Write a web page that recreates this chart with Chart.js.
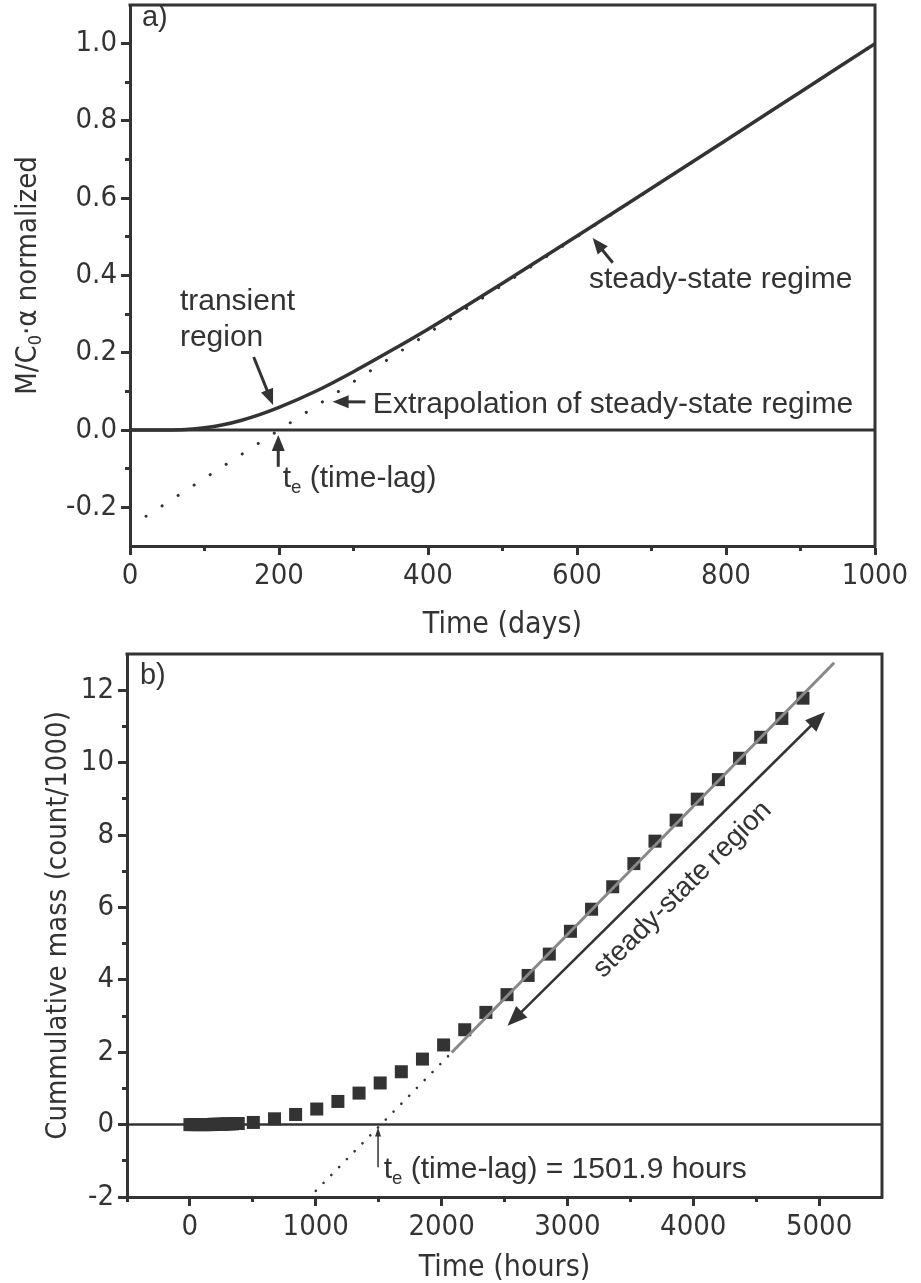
<!DOCTYPE html>
<html>
<head>
<meta charset="utf-8">
<script src="https://cdn.jsdelivr.net/npm/chart.js@4.4.0/dist/chart.umd.min.js"></script>
<style>
  html, body { margin: 0; padding: 0; background: #fff; }
  .panel { position: absolute; left: 0; width: 921px; }
  #panelA { top: 0; height: 640px; }
  #panelB { top: 640px; height: 643px; }
  canvas { display: block; }
</style>
</head>
<body>
<div class="panel" id="panelA"><canvas id="chartA" width="921" height="640"></canvas></div>
<div class="panel" id="panelB"><canvas id="chartB" width="921" height="643"></canvas></div>
<script>
// ---- panel a: normalized mass vs time (days)
const timeDays = [0, 50, 75, 100, 125, 150, 175, 200, 250, 300, 350, 400, 450, 500, 600, 700, 800, 900, 1000];
const massNorm = [0, 0.0002, 0.0015, 0.0058, 0.0137, 0.0255, 0.0406, 0.0586, 0.101, 0.151, 0.205, 0.261, 0.320, 0.380, 0.502, 0.626, 0.750, 0.875, 1.0];
const extrapDays = [0, 1000];
const extrapNorm = [-0.25, 1.0];
const zeroDays = [0, 1000];
const xTicksA = [0, 200, 400, 600, 800, 1000];
const xLabelsA = ['0', '200', '400', '600', '800', '1000'];
const xMinorA = [100, 300, 500, 700, 900];
const yTicksA = [-0.2, 0, 0.2, 0.4, 0.6, 0.8, 1.0];
const yLabelsA = ['-0.2', '0.0', '0.2', '0.4', '0.6', '0.8', '1.0'];
const yMinorA = [-0.1, 0.1, 0.3, 0.5, 0.7, 0.9];

// ---- panel b: cumulative mass vs time (hours)
const timeHours = [0, 24, 48, 72, 96, 120, 144, 168, 192, 216, 240, 264, 288, 312, 336, 360, 384,
  504, 672, 840, 1008, 1176, 1344, 1512, 1680, 1848, 2016, 2184, 2352, 2520, 2688, 2856,
  3024, 3192, 3360, 3528, 3696, 3864, 4032, 4200, 4368, 4536, 4704, 4872];
const massCount = [0, 0, 0, 0, 0, 0, 0, 0, 0.01, 0.01, 0.01, 0.01, 0.02, 0.02, 0.02, 0.03, 0.03,
  0.06, 0.16, 0.28, 0.43, 0.64, 0.87, 1.15, 1.46, 1.81, 2.20, 2.62, 3.10, 3.59, 4.12, 4.71,
  5.34, 5.95, 6.57, 7.21, 7.83, 8.41, 8.99, 9.53, 10.12, 10.70, 11.22, 11.78];
const fitHours = [2080, 5120];
const fitCount = [1.99, 12.76];
const lagHours = [1000, 2080];
const lagCount = [-1.83, 1.99];
const zeroHours = [-500, 5500];
const xTicksB = [0, 1000, 2000, 3000, 4000, 5000];
const xLabelsB = ['0', '1000', '2000', '3000', '4000', '5000'];
const xMinorB = [-500, 500, 1500, 2500, 3500, 4500];
const yTicksB = [-2, 0, 2, 4, 6, 8, 10, 12];
const yLabelsB = ['-2', '0', '2', '4', '6', '8', '10', '12'];
const yMinorB = [-1, 1, 3, 5, 7, 9, 11];

const ink = '#333';
const narrow = "'Liberation Sans Narrow', 'DejaVu Sans Condensed', 'Liberation Sans', sans-serif";
const plain = "'Liberation Sans', Arial, sans-serif";

function pts(xs, ys) {
  return xs.map((x, i) => ({ x: x, y: ys[i] }));
}

function noPad(s) {
  s.paddingTop = 0; s.paddingBottom = 0; s.paddingLeft = 0; s.paddingRight = 0;
}

function majorAxis(pos, min, max, ticks, labels, size, title, titleSize, titlePad) {
  return {
    type: 'linear', position: pos, min: min, max: max, weight: 1,
    afterBuildTicks: s => { s.ticks = ticks.map(v => ({ value: v })); },
    afterFit: s => {
      if (pos === 'left') s.width = size; else s.height = size;
      noPad(s);
    },
    grid: { drawOnChartArea: false, drawTicks: true, tickLength: 9, tickWidth: 3, tickColor: ink },
    border: { display: true, color: ink, width: 3 },
    ticks: {
      color: ink, font: { family: narrow, size: 29 }, padding: 4,
      maxRotation: 0, autoSkip: false,
      callback: (v, i) => labels[i]
    },
    title: {
      display: !!title, text: title || '', color: ink,
      font: { family: narrow, size: titleSize || 30, lineHeight: 1 }, padding: titlePad || 0
    }
  };
}

function minorAxis(pos, min, max, ticks) {
  return {
    type: 'linear', position: pos, min: min, max: max, weight: 0,
    afterBuildTicks: s => { s.ticks = ticks.map(v => ({ value: v })); },
    afterFit: s => {
      if (pos === 'left') s.width = 0; else s.height = 0;
      noPad(s);
    },
    grid: { drawOnChartArea: false, drawTicks: true, tickLength: 5, tickWidth: 3, tickColor: ink },
    border: { display: false },
    ticks: { display: false }
  };
}

function head(ctx, x, y, ang, hl, hw) {
  const c = Math.cos(ang), s = Math.sin(ang);
  ctx.beginPath();
  ctx.moveTo(x, y);
  ctx.lineTo(x - hl * c + hw / 2 * s, y - hl * s - hw / 2 * c);
  ctx.lineTo(x - hl * c - hw / 2 * s, y - hl * s + hw / 2 * c);
  ctx.closePath();
  ctx.fill();
}

function richWidth(ctx, parts, size, family) {
  let w = 0;
  parts.forEach(p => {
    ctx.font = (p[1] ? size * 0.62 : size) + 'px ' + family;
    w += ctx.measureText(p[0]).width;
  });
  return w;
}

function drawRich(ctx, parts, x, y, size, family) {
  let cx = x;
  parts.forEach(p => {
    const sub = p[1] === 'sub';
    ctx.font = (sub ? size * 0.62 : size) + 'px ' + family;
    ctx.fillText(p[0], cx, y + (sub ? size * 0.3 : 0));
    cx += ctx.measureText(p[0]).width;
  });
}

// frame, arrows and labels
const marks = {
  id: 'marks',
  afterDraw(chart, args, opts) {
    const ctx = chart.ctx;
    const a = chart.chartArea;
    const sx = chart.scales.x, sy = chart.scales.y;
    const px = v => sx.getPixelForValue(v);
    const py = v => sy.getPixelForValue(v);
    ctx.save();
    ctx.strokeStyle = ink;
    ctx.fillStyle = ink;
    ctx.lineWidth = 3;
    ctx.beginPath();
    ctx.moveTo(a.left - 1.5, a.top);
    ctx.lineTo(a.right, a.top);
    ctx.lineTo(a.right, a.bottom + 1.5);
    ctx.stroke();

    (opts.arrows || []).forEach(ar => {
      const x1 = px(ar.from[0]), y1 = py(ar.from[1]);
      const x2 = px(ar.to[0]), y2 = py(ar.to[1]);
      const ang = Math.atan2(y2 - y1, x2 - x1);
      const c = Math.cos(ang), s = Math.sin(ang);
      const cut = ar.hl * 0.7;
      ctx.lineWidth = ar.w;
      ctx.beginPath();
      ctx.moveTo(ar.both ? x1 + c * cut : x1, ar.both ? y1 + s * cut : y1);
      ctx.lineTo(x2 - c * cut, y2 - s * cut);
      ctx.stroke();
      head(ctx, x2, y2, ang, ar.hl, ar.hw);
      if (ar.both) head(ctx, x1, y1, ang + Math.PI, ar.hl, ar.hw);
    });

    (opts.texts || []).forEach(t => {
      const family = t.family || plain;
      ctx.textBaseline = 'middle';
      ctx.textAlign = 'left';
      let x0, y0;
      if (t.px) {
        x0 = a.left + t.px[0];
        y0 = (a.top + a.bottom) / 2 + t.px[1];
      } else {
        x0 = px(t.at[0]);
        y0 = py(t.at[1]);
      }
      let rot = t.rot || 0;
      if (t.along) {
        rot = Math.atan2(py(t.along[1][1]) - py(t.along[0][1]), px(t.along[1][0]) - px(t.along[0][0]));
      }
      const w = richWidth(ctx, t.parts, t.size, family);
      ctx.save();
      ctx.translate(x0, y0);
      ctx.rotate(rot);
      drawRich(ctx, t.parts, t.center ? -w / 2 : 0, 0, t.size, family);
      ctx.restore();
    });
    ctx.restore();
  }
};

const common = {
  responsive: false,
  animation: false,
  events: [],
  plugins: { legend: { display: false }, tooltip: { enabled: false } }
};

new Chart(document.getElementById('chartA').getContext('2d'), {
  type: 'scatter',
  plugins: [marks],
  data: {
    datasets: [
      {
        data: pts(timeDays, massNorm), showLine: true, borderColor: ink, borderWidth: 3.5,
        pointRadius: 0, cubicInterpolationMode: 'monotone', order: 0
      },
      {
        data: pts(zeroDays, [0, 0]), showLine: true, borderColor: ink, borderWidth: 3,
        pointRadius: 0, order: 1
      },
      {
        data: pts(extrapDays, extrapNorm), showLine: true, borderColor: ink, borderWidth: 3,
        borderDash: [0.1, 19], borderCapStyle: 'round', pointRadius: 0, order: 2
      }
    ]
  },
  options: Object.assign({}, common, {
    layout: { padding: { top: 5, right: 46, left: 0, bottom: 0 } },
    scales: {
      x: majorAxis('bottom', 0, 1000, xTicksA, xLabelsA, 94, 'Time (days)', 30, 0),
      xm: minorAxis('bottom', 0, 1000, xMinorA),
      y: majorAxis('left', -0.3, 1.1, yTicksA, yLabelsA, 130, null, 30, 0),
      ym: minorAxis('left', -0.3, 1.1, yMinorA)
    },
    plugins: Object.assign({}, common.plugins, {
      marks: {
        texts: [
          { at: [16, 1.067], parts: [['a)']], size: 29 },
          { at: [67, 0.332], parts: [['transient']], size: 30 },
          { at: [67, 0.238], parts: [['region']], size: 30 },
          { at: [326, 0.065], parts: [['Extrapolation of steady-state regime']], size: 30 },
          { at: [205, -0.127], parts: [['t'], ['e', 'sub'], [' (time-lag)']], size: 30 },
          { at: [616, 0.389], parts: [['steady-state regime']], size: 30 },
          { px: [-102, 0], rot: -Math.PI / 2, center: true, family: narrow, size: 29,
            parts: [['M/C'], ['0', 'sub'], ['\u00B7\u03B1 normalized']] }
        ],
        arrows: [
          { from: [166, 0.189], to: [192, 0.065], w: 3, hl: 16, hw: 13 },
          { from: [316, 0.073], to: [272, 0.073], w: 3, hl: 16, hw: 13 },
          { from: [199, -0.095], to: [199, -0.013], w: 3, hl: 16, hw: 13 },
          { from: [648, 0.433], to: [621, 0.497], w: 3, hl: 16, hw: 13 }
        ]
      }
    })
  })
});

new Chart(document.getElementById('chartB').getContext('2d'), {
  type: 'scatter',
  plugins: [marks],
  data: {
    datasets: [
      {
        data: pts(fitHours, fitCount), showLine: true, borderColor: '#888', borderWidth: 3,
        pointRadius: 0, order: 0
      },
      {
        data: pts(timeHours, massCount), showLine: false, backgroundColor: ink,
        borderWidth: 0, pointStyle: 'rect', pointRadius: 9.2, order: 1
      },
      {
        data: pts(lagHours, lagCount), showLine: true, borderColor: ink, borderWidth: 2.6,
        borderDash: [0.1, 11], borderCapStyle: 'round', pointRadius: 0, order: 2
      },
      {
        data: pts(zeroHours, [0, 0]), showLine: true, borderColor: ink, borderWidth: 2.5,
        pointRadius: 0, order: 3
      }
    ]
  },
  options: Object.assign({}, common, {
    layout: { padding: { top: 14, right: 39, left: 0, bottom: 0 } },
    scales: {
      x: majorAxis('bottom', -500, 5500, xTicksB, xLabelsB, 86, 'Time (hours)', 30, 0),
      xm: minorAxis('bottom', -500, 5500, xMinorB),
      y: majorAxis('left', -2, 13, yTicksB, yLabelsB, 127, 'Cummulative mass (count/1000)', 29, 44),
      ym: minorAxis('left', -2, 13, yMinorB)
    },
    plugins: Object.assign({}, common.plugins, {
      marks: {
        texts: [
          { at: [-397, 12.4], parts: [['b)']], size: 29 },
          { at: [1540, -1.25], parts: [['t'], ['e', 'sub'], [' (time-lag) = 1501.9 hours']], size: 30 },
          { at: [3915, 6.49], parts: [['steady-state region']], size: 28, center: true,
            along: [[2524, 2.73], [5047, 11.40]] }
        ],
        arrows: [
          { from: [2524, 2.73], to: [5047, 11.40], w: 2.5, hl: 20, hw: 16, both: true },
          { from: [1495, -1.18], to: [1495, -0.08], w: 1.5, hl: 9, hw: 6 }
        ]
      }
    })
  })
});
</script>
</body>
</html>
